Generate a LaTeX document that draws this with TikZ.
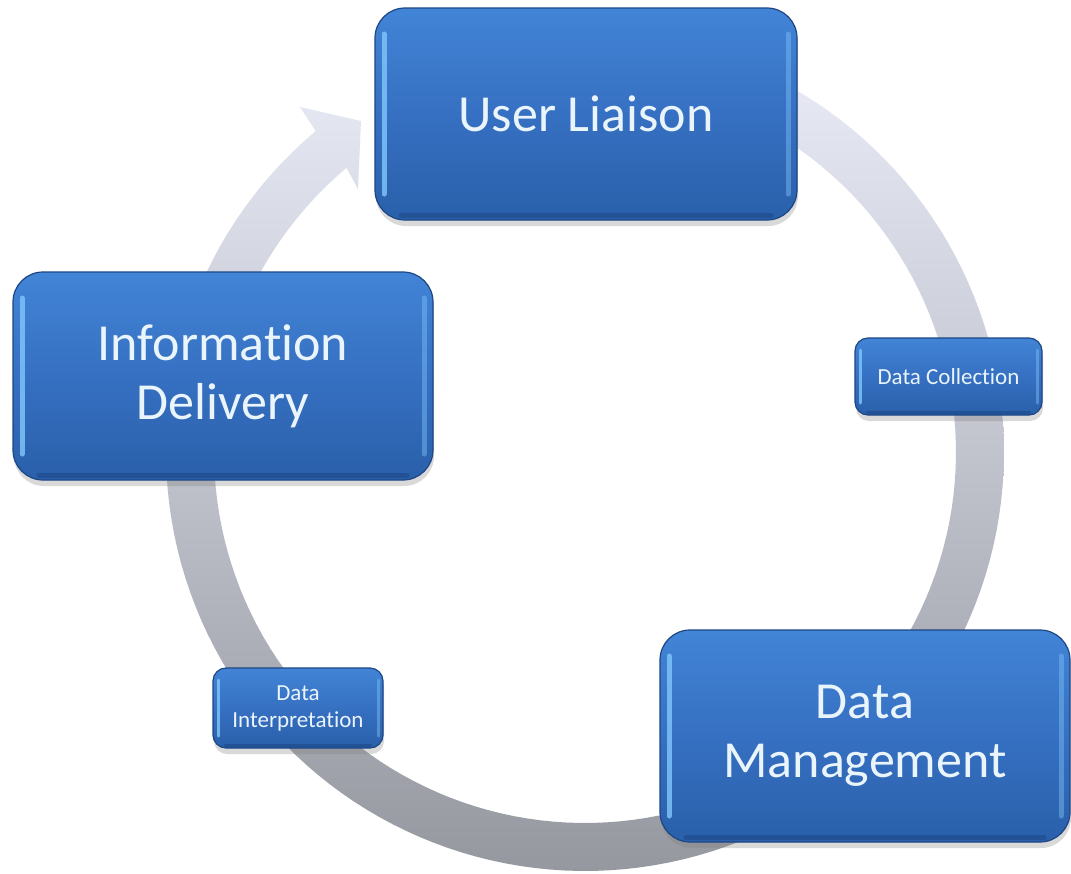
\documentclass[tikz,border=0pt]{standalone}
\usepackage{fontspec}
\setmainfont{Carlito}[Ligatures={NoCommon}]
\usetikzlibrary{shadows}
\definecolor{boxtop}{RGB}{66,132,214}
\definecolor{boxmid}{RGB}{54,112,194}
\definecolor{boxbot}{RGB}{42,96,170}
\definecolor{boxedge}{RGB}{28,70,132}
\definecolor{boxhl}{RGB}{125,195,248}
\definecolor{boxtext}{RGB}{234,244,251}
\definecolor{ringtop}{RGB}{234,236,248}
\definecolor{ringmid}{RGB}{204,208,224}
\definecolor{ringbot}{RGB}{150,152,160}
\newcommand\bevelstrips[4]{% #1 side offset, #2 end inset, #3 width, #4 bottom offset
  \draw[boxhl, line width=#3, opacity=0.85, line cap=round, sharp corners]
    ([xshift=#1,yshift=-#2]path picture bounding box.north west) --
    ([xshift=#1,yshift=#2]path picture bounding box.south west);
  \draw[boxhl, line width=#3, opacity=0.45, line cap=round, sharp corners]
    ([xshift=-#1,yshift=-#2]path picture bounding box.north east) --
    ([xshift=-#1,yshift=#2]path picture bounding box.south east);
  \draw[boxedge, line width=#3, opacity=0.55, line cap=round, sharp corners]
    ([xshift=#2,yshift=#4]path picture bounding box.south west) --
    ([xshift=-#2,yshift=#4]path picture bounding box.south east);
}
\begin{document}
\begin{tikzpicture}[x=1pt,y=-1pt,
  blockbase/.style={draw=boxedge, line width=1.2pt, top color=boxtop,
    bottom color=boxbot, middle color=boxmid, text=boxtext, align=center,
    inner sep=0pt,
    drop shadow={opacity=0.3, shadow xshift=1pt, shadow yshift=-6pt}},
  bigbox/.style={blockbase, rounded corners=30pt,
    font=\fontsize{52}{59}\selectfont,
    path picture={\bevelstrips{9pt}{26pt}{5pt}{5pt}}},
  smallbox/.style={blockbase, rounded corners=13pt,
    font=\fontsize{23}{27}\selectfont,
    path picture={\bevelstrips{5pt}{12pt}{3pt}{3pt}}}]
\useasboundingbox (0,0) rectangle (1071,873);
% cycle ring with arrow head
\shade[top color=ringtop, middle color=ringmid, bottom color=ringbot]
  plot[domain=-75:230, samples=150] ({585+419*cos(\x)},{452+419*sin(\x)})
  -- (300,107) -- (361,121) -- (358,189)
  -- plot[domain=230:-75, samples=150] ({585+371*cos(\x)},{452+371*sin(\x)})
  -- cycle;
% boxes
\node[bigbox, minimum width=422pt, minimum height=212pt] (user) at (586,114) {User Liaison};
\node[bigbox, minimum width=420pt, minimum height=208pt] (info) at (223,376) {Information\\Delivery};
\node[bigbox, minimum width=410pt, minimum height=212pt] (mgmt) at (865,736) {Data\\Management};
\node[smallbox, minimum width=187pt, minimum height=77pt] (coll) at (948.5,376.5) {Data Collection};
\node[smallbox, minimum width=170pt, minimum height=80pt] (interp) at (298,708) {Data\\Interpretation};
\end{tikzpicture}
\end{document}
